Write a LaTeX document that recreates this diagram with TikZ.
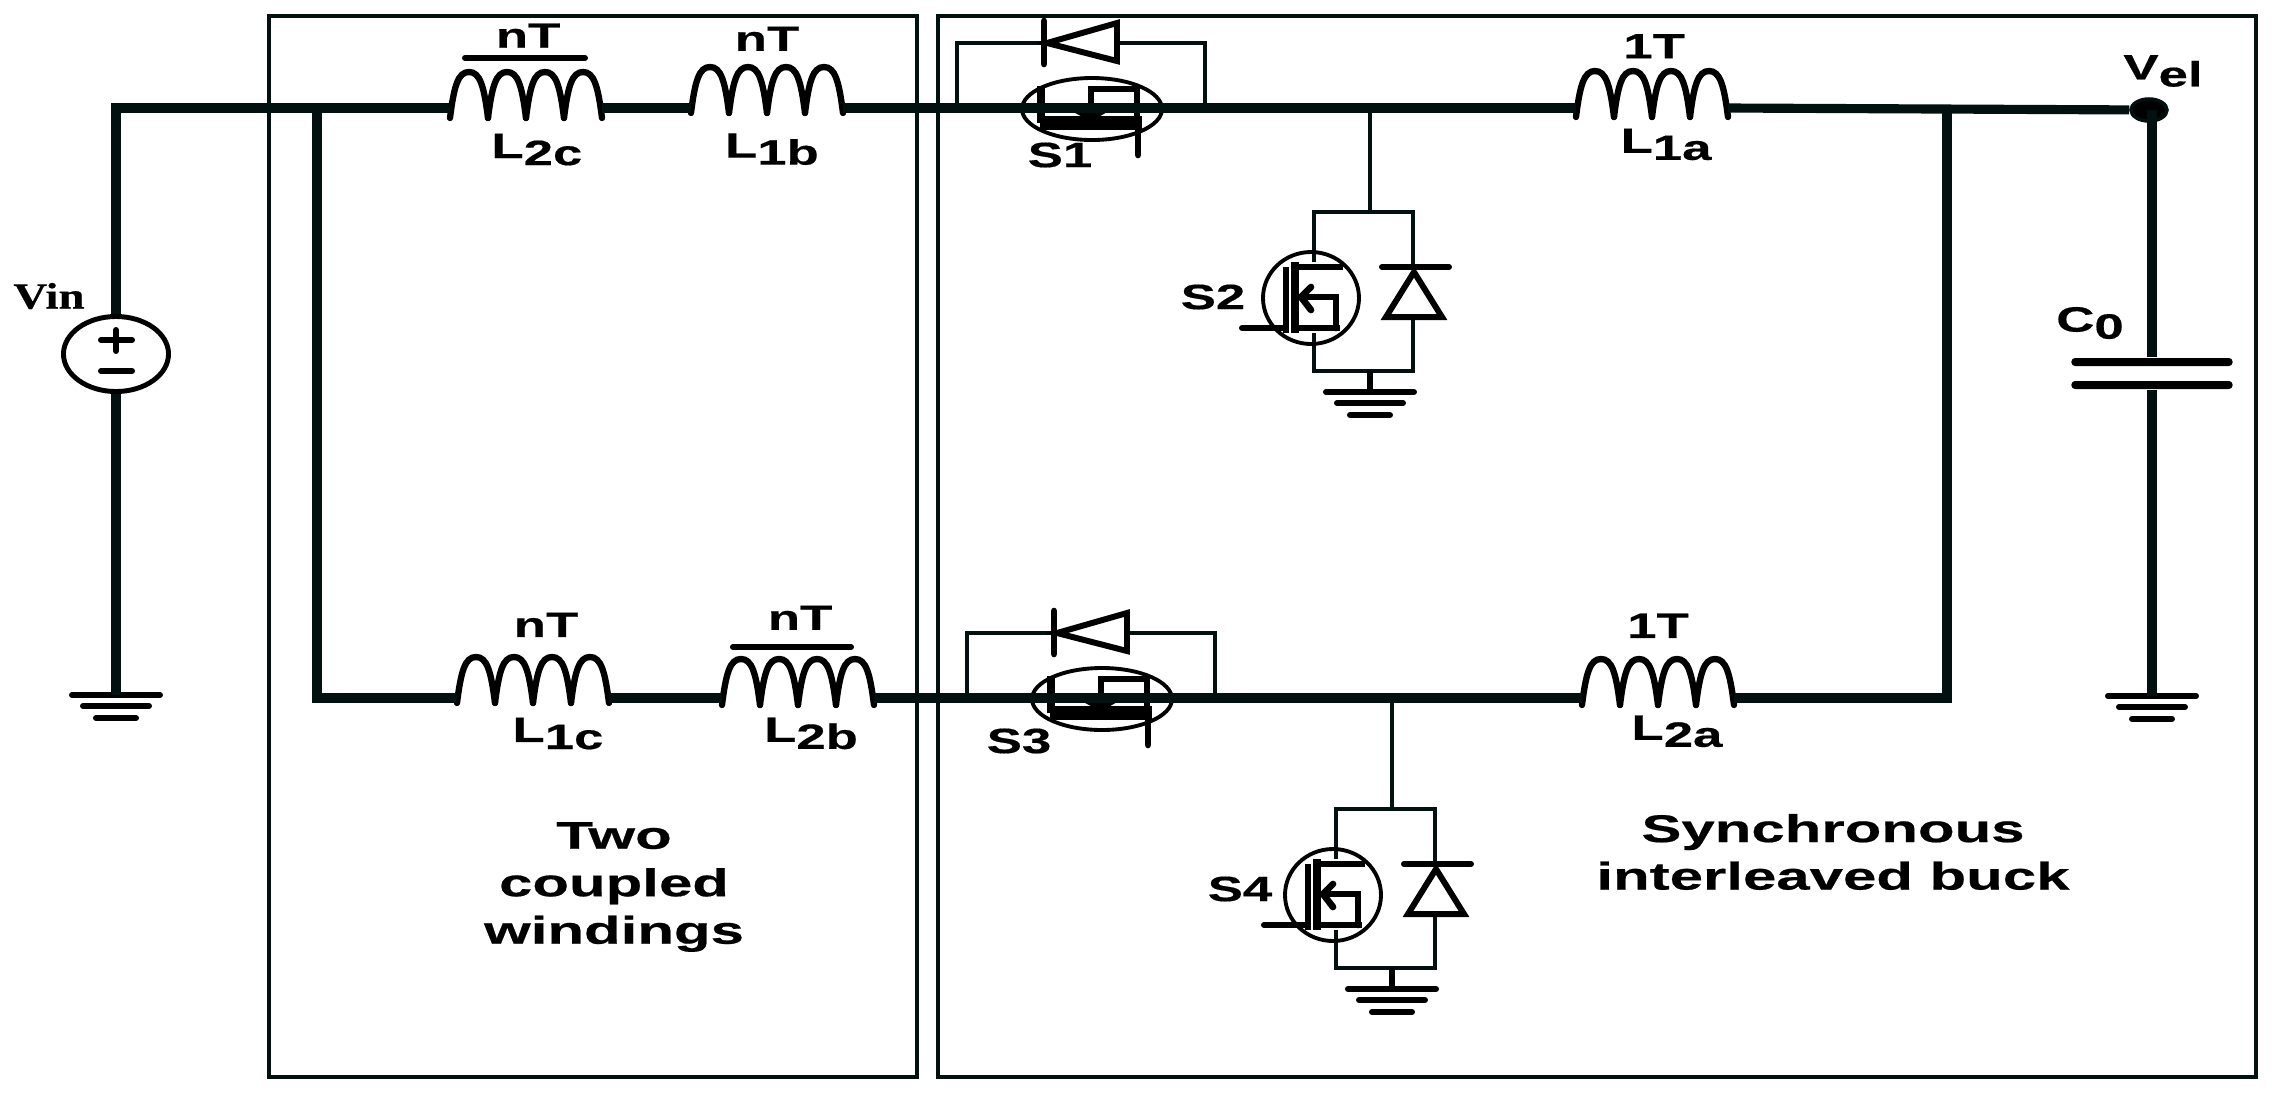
\documentclass[tikz,border=0pt]{standalone}
\usepackage{fontspec}
\usepackage{tikz}
\usetikzlibrary{positioning}
\usetikzlibrary{shapes.geometric}
\newfontfamily\lblfont{Liberation Sans}[FakeStretch=1.5,BoldFeatures={FakeBold=0.5}]
\newfontfamily\regfont{Liberation Sans}[FakeStretch=1.55,BoldFeatures={FakeBold=0.5}]
\newfontfamily\vinfont{Liberation Serif}[FakeStretch=1.27,BoldFeatures={FakeBold=0.5}]
\definecolor{wirecol}{HTML}{021010}
\newcommand{\subl}[2]{#1\raisebox{-2pt}{#2}}
\tikzset{
	wire/.style={draw=wirecol, line width=2.6pt, line join=miter},
	lead/.style={draw=wirecol, line width=1.15pt},
	frame/.style={draw=wirecol, line width=1.15pt},
	sym/.style={draw=black, line width=1.7pt, line cap=round},
	lbl/.style={font=\lblfont\bfseries\fontsize{10}{13.5}\selectfont, inner sep=0pt, align=center},
	reg/.style={font=\regfont\bfseries\fontsize{11}{13.5}\selectfont, inner sep=0pt, align=center},
	plate/.style={fill=black, rounded corners=1pt, minimum width=1.61cm, minimum height=0.08cm, inner sep=0pt},
	pics/coil/.style={code={
		\foreach \x in {0,38,76,114}
			\draw[line width=1.8pt, line cap=round] (\x,#1) .. controls ({\x+4},{#1-32}) and ({\x+8},{#1-46}) .. ({\x+19},{#1-46}) .. controls ({\x+30},{#1-46}) and ({\x+34},{#1-32}) .. ({\x+38},#1);
		\coordinate (-in) at (0,0);
		\coordinate (-out) at (152,0);
		\coordinate (-top) at (76,{#1-46});
		\coordinate (-bot) at (76,#1);
	}},
	pics/gnd/.style={code={
		\draw[sym] (-44,0) -- (44,0);
		\draw[sym] (-33,11) -- (33,11);
		\draw[sym] (-20,23) -- (20,23);
		\coordinate (-top) at (0,0);
	}},
	pics/feth/.style={code={
		% bypass diode
		\draw[lead] (-135,0) -- (-135,-65) -- (-48,-65);
		\draw[lead] (25,-65) -- (113,-65) -- (113,0);
		\draw[sym, line width=1.9pt] (-48,-87) -- (-48,-44);
		\draw[sym, line join=miter, line cap=butt] (-45,-65) -- (25,-85) -- (25,-47) -- cycle;
		% switch
		\draw[line width=1.1pt] (0,1) ellipse [x radius=70, y radius=31];
		\draw[line width=3.8pt] (-52,15) -- (50,15);
		\draw[line width=2.4pt] (-51,-22) -- (-51,15);
		\draw[line width=1.9pt, line cap=round] (46,15) -- (46,47);
		\draw[line width=1.9pt, line join=miter] (-1,12) -- (-1,-19) -- (45,-19) -- (45,15);
		\draw[sym] (-18,1) -- (-1,10) -- (16,0);
	}},
	pics/fetv/.style={code={
		% bridge with diode
		\draw[lead] (0,0) -- (-56,0) -- (-56,50);
		\draw[lead] (0,0) -- (43,0) -- (43,55);
		\draw[lead] (-56,121) -- (-56,159) -- (43,159) -- (43,105);
		\draw[sym] (12,55) -- (79,55);
		\draw[sym, line join=miter, line cap=butt] (44,60) -- (16,105) -- (72,105) -- cycle;
		% switch
		\draw[line width=1.1pt] (-59,86) ellipse [x radius=48, y radius=46];
		\draw[line width=1.7pt] (-84,55) -- (-84,121);
		\draw[sym] (-128,116) -- (-84,116);
		\draw[line width=2.4pt] (-75,50) -- (-75,121);
		\draw[sym, line width=1.9pt, line cap=butt] (-75,55) -- (-27,55);
		\draw[sym, line width=1.9pt, line cap=butt] (-75,116) -- (-30,116);
		\draw[sym, line width=1.9pt, line cap=round, line join=miter] (-69,85) -- (-34,85) -- (-34,116);
		\draw[sym, line width=1.9pt] (-59,75) -- (-69,85) -- (-59,98);
		\coordinate (-top) at (0,0);
		\coordinate (-bot) at (0,159);
	}}
}
\begin{document}
\begin{tikzpicture}[x=0.01cm, y=-0.01cm]
	\useasboundingbox (0,0) rectangle (2277,1099);

	\node[frame, minimum width=6.48cm, minimum height=10.61cm, inner sep=0pt] (boxa) at (593,546.5) {};
	\node[frame, minimum width=13.18cm, minimum height=10.61cm, inner sep=0pt] (boxb) at (1597,546.5) {};

	\node[ellipse, draw=black, line width=1.4pt, minimum width=1.05cm, minimum height=0.75cm, inner sep=0pt] (vin) at (116,354) {};
	\node[font=\vinfont\bfseries\fontsize{10.5}{12}\selectfont, inner sep=0pt] (lvin) at (49,296) {Vin};
	\draw[sym] (101,340) -- (132,340);
	\draw[sym] (116,330) -- (116,351);
	\draw[sym] (101,371) -- (132,371);

	\pic (L2c) at (450,108) {coil=10};
	\pic (L1b) at (691,108) {coil=5};
	\pic (L1a) at (1576,108) {coil=9};
	\pic (L1c) at (457,698) {coil=5};
	\pic (L2b) at (722,698) {coil=7};
	\pic (L2a) at (1582,698) {coil=7};

	\pic (S1) at (1092,108) {feth};
	\pic (S3) at (1102,698) {feth};
	\pic (S2) at (1370,212) {fetv};
	\pic (S4) at (1392,809) {fetv};

	\pic (G1) at (116,695) {gnd};
	\pic (G2) at (1370,392) {gnd};
	\pic (G3) at (1392,989) {gnd};
	\pic (G4) at (2152,696) {gnd};

	\coordinate (ja) at (317,108);
	\coordinate (jb) at (1947,108);
	\node[ellipse, fill=black, draw=wirecol, line width=1pt, minimum width=0.36cm, minimum height=0.22cm, inner sep=0pt] (vout) at (2149,110) {};
	\node[plate] (capa) at (2152,362) {};
	\node[plate] (capb) at (2152,385) {};

	\draw[wire] (vin.north) |- (L2c-in);
	\draw[wire] (L2c-out) -- (L1b-in);
	\draw[wire] (L1b-out) -- (L1a-in);
	\draw[wire] (L1a-out) -- (vout);
	\draw[wire] (vin.south) -- (G1-top);
	\draw[wire] (ja) |- (L1c-in);
	\draw[wire] (L1c-out) -- (L2b-in);
	\draw[wire] (L2b-out) -- (L2a-in);
	\draw[wire] (L2a-out) -| (jb);
	\draw[wire] (capa |- vout) -- (capa);
	\draw[wire] (capb) -- (G4-top);
	\draw[lead, line width=1.4pt] (S2-top |- L1a-in) -- (S2-top);
	\draw[lead, line width=1.4pt] (S4-top |- L2a-in) -- (S4-top);
	\draw[sym, line cap=butt] (S2-bot) -- (G2-top);
	\draw[sym, line cap=butt] (S4-bot) -- (G3-top);

	\node[lbl, above=6.7pt of L2c-top, xshift=0.6pt] (nta) {nT};
	\node[lbl, above=4.4pt of L1b-top] (ntb) {nT};
	\node[lbl, above=3.4pt of L1a-top, xshift=0.6pt] (tta) {1T};
	\node[lbl, above=5.5pt of L1c-top, xshift=3.7pt] (ntc) {nT};
	\node[lbl, above=8.1pt of L2b-top, xshift=0.6pt] (ntd) {nT};
	\node[lbl, above=5.8pt of L2a-top] (ttb) {1T};
	\draw[sym] (465,58) -- (585,58);
	\draw[sym] (733,647) -- (851,647);

	\node[lbl, below=4.3pt of L2c-bot, xshift=3.1pt] (l2c) {\subl{L}{2c}};
	\node[lbl, below=5.6pt of L1b-bot, xshift=1.4pt] (l1b) {\subl{L}{1b}};
	\node[lbl, below=3.1pt of L1a-bot, xshift=4pt] (l1a) {\subl{L}{1a}};
	\node[lbl, below=4pt of L1c-bot, xshift=7.1pt] (l1c) {\subl{L}{1c}};
	\node[lbl, below=3.4pt of L2b-bot, xshift=3.7pt] (l2b) {\subl{L}{2b}};
	\node[lbl, below=2.8pt of L2a-bot, xshift=5.4pt] (l2a) {\subl{L}{2a}};

	\node[lbl] (ls1) at (1060,155) {S1};
	\node[lbl] (ls2) at (1213,297) {S2};
	\node[lbl] (ls3) at (1019,741) {S3};
	\node[lbl] (ls4) at (1240,889) {S4};
	\node[lbl] (lvel) at (2163,71) {\subl{V}{el}};
	\node[lbl] (lc0) at (2090,323) {\subl{C}{0}};
	\node[reg] (ltwo) at (614,887) {Two\\coupled\\windings};
	\node[reg] (lsyn) at (1833,852) {Synchronous\\interleaved buck};
\end{tikzpicture}
\end{document}
